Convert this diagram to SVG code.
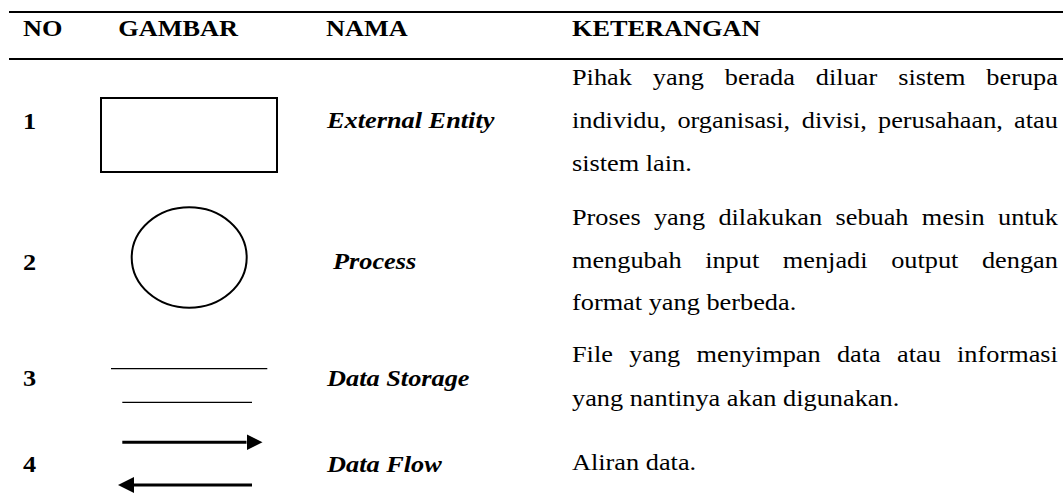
<svg xmlns="http://www.w3.org/2000/svg" width="1063" height="501" viewBox="0 0 1063 501" font-family="Liberation Serif" font-size="23.5">
<style>
  text { fill: #000; }
  .h { font-weight: bold; }
  .num { font-weight: bold; }
  .nm { font-weight: bold; font-style: italic; }
  .rule { stroke: #000; stroke-width: 2; }
  .shape { fill: none; stroke: #000; stroke-width: 2; }
  .store { stroke: #000; stroke-width: 1.2; }
  .flow { stroke: #000; stroke-width: 3; fill: none; }
</style>
<defs>
  <marker id="head" markerUnits="userSpaceOnUse" markerWidth="17" markerHeight="17" refX="0" refY="8" orient="auto">
    <path d="M0,0 L16,8 L0,16 Z" fill="#000"/>
  </marker>
</defs>
<rect width="1063" height="501" fill="#fff"/>

<g id="header">
  <line class="rule" x1="9" y1="12" x2="1063" y2="12"/>
  <line class="rule" x1="9" y1="59" x2="1063" y2="59"/>
  <g transform="scale(1.12 1)" font-family="Liberation Serif">
    <text class="h" x="20.5" y="36">NO</text>
    <text class="h" x="105.6" y="36">GAMBAR</text>
    <text class="h" x="291.1" y="36">NAMA</text>
    <text class="h" x="510.7" y="36">KETERANGAN</text>
  </g>
</g>

<g id="row1">
  <rect class="shape" x="101" y="98" width="176" height="74"/>
  <g transform="scale(1.12 1)" font-family="Liberation Serif">
    <text class="num" x="20.5" y="129">1</text>
    <text class="nm" x="292" y="128">External Entity</text>
    <text y="85"><tspan x="510.7">Pihak</tspan> <tspan x="582.87">yang</tspan> <tspan x="647.19">berada</tspan> <tspan x="728.46">diluar</tspan> <tspan x="801.93">sistem</tspan> <tspan x="880.64">berupa</tspan></text>
    <text y="128"><tspan x="510.7">individu,</tspan> <tspan x="604.84">organisasi,</tspan> <tspan x="715.92">divisi,</tspan> <tspan x="783.96">perusahaan,</tspan> <tspan x="905.45">atau</tspan></text>
    <text x="510.7" y="171">sistem lain.</text>
  </g>
</g>

<g id="row2">
  <ellipse class="shape" cx="189.2" cy="257.5" rx="57.5" ry="50.2"/>
  <g transform="scale(1.12 1)" font-family="Liberation Serif">
    <text class="num" x="20.5" y="270">2</text>
    <text class="nm" x="297.3" y="269">Process</text>
    <text y="225"><tspan x="510.7">Proses</tspan> <tspan x="583.91">yang</tspan> <tspan x="641.44">dilakukan</tspan> <tspan x="745.97">sebuah</tspan> <tspan x="823.08">mesin</tspan> <tspan x="891.07">untuk</tspan></text>
    <text y="268"><tspan x="510.7">mengubah</tspan> <tspan x="629.61">input</tspan> <tspan x="698.94">menjadi</tspan> <tspan x="795.67">output</tspan> <tspan x="876.75">dengan</tspan></text>
    <text x="510.7" y="310">format yang berbeda.</text>
  </g>
</g>

<g id="row3">
  <line class="store" x1="111" y1="368.7" x2="267.3" y2="368.7"/>
  <line class="store" x1="122.3" y1="402.3" x2="252" y2="402.3"/>
  <g transform="scale(1.12 1)" font-family="Liberation Serif">
    <text class="num" x="20.5" y="386">3</text>
    <text class="nm" x="292" y="386">Data Storage</text>
    <text y="362"><tspan x="510.7">File</tspan> <tspan x="561.73">yang</tspan> <tspan x="621.87">menyimpan</tspan> <tspan x="747.30">data</tspan> <tspan x="800.91">atau</tspan> <tspan x="854.52">informasi</tspan></text>
    <text x="510.7" y="406">yang nantinya akan digunakan.</text>
  </g>
</g>

<g id="connectors">
  <line class="flow" x1="122.3" y1="442.3" x2="246.5" y2="442.3" marker-end="url(#head)"/>
  <line class="flow" x1="252" y1="485" x2="134" y2="485" marker-end="url(#head)"/>
</g>

<g id="row4">
  <g transform="scale(1.12 1)" font-family="Liberation Serif">
    <text class="num" x="20.5" y="472">4</text>
    <text class="nm" x="292" y="472">Data Flow</text>
    <text x="510.7" y="470">Aliran data.</text>
  </g>
</g>
</svg>
